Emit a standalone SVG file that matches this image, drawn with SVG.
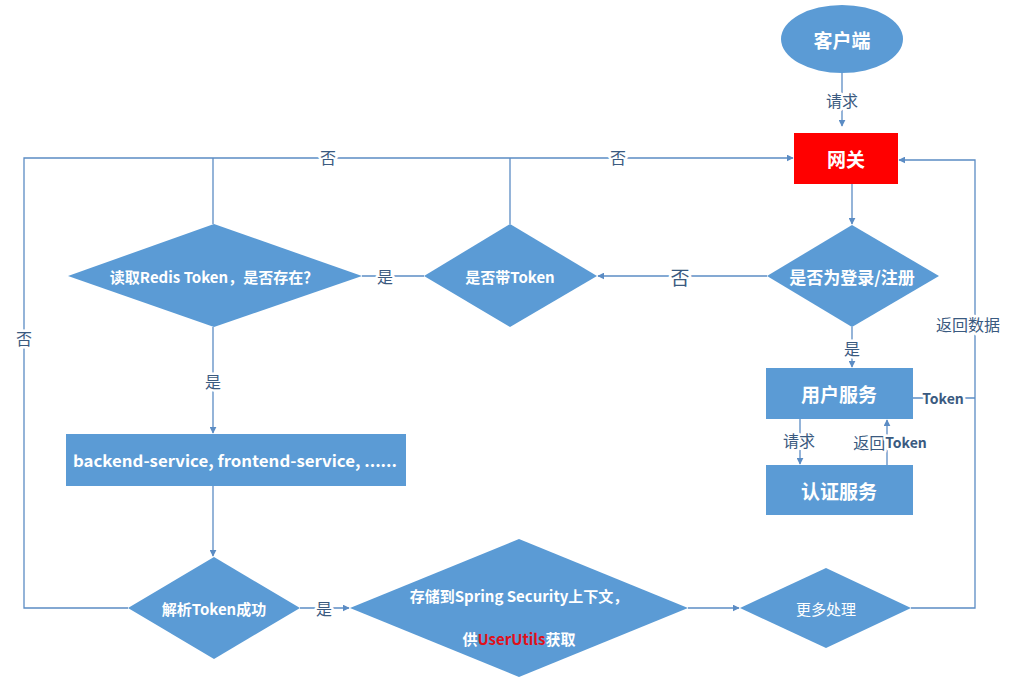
<svg xmlns="http://www.w3.org/2000/svg" width="1035" height="685" viewBox="0 0 1035 685">
<style>
.shape{fill:#5B9BD5}
.ln{fill:none;stroke:#5B8CC4;stroke-width:1.3}
.nt{font-family:"Noto Sans CJK SC","Noto Sans",sans-serif;font-weight:bold;fill:#fff;text-anchor:middle;dominant-baseline:central}
.lb{font-family:"Noto Sans CJK SC","Noto Sans",sans-serif;fill:#3A5A80;text-anchor:middle;dominant-baseline:central;font-size:16px;stroke:#fff;stroke-width:5px;paint-order:stroke;stroke-linejoin:round}
</style>
<defs>
<marker id="ah" viewBox="0 0 10 10" refX="9" refY="5" markerWidth="7" markerHeight="7" orient="auto" markerUnits="userSpaceOnUse">
<path d="M0,0 L10,5 L0,10 z" fill="#5B8CC4"/>
</marker>
</defs>
<rect width="1035" height="685" fill="#fff"/>
<g id="connectors">
<path class="ln" d="M842,73 V126" marker-end="url(#ah)"/>
<path class="ln" d="M852,184 V224" marker-end="url(#ah)"/>
<path class="ln" d="M767,276 H598" marker-end="url(#ah)"/>
<path class="ln" d="M852,327 V367" marker-end="url(#ah)"/>
<path class="ln" d="M424,276 H362"/>
<path class="ln" d="M510,224 V158"/>
<path class="ln" d="M213,224 V158"/>
<path class="ln" d="M128,608 H24 V158 H793" marker-end="url(#ah)"/>
<path class="ln" d="M213,327 V433" marker-end="url(#ah)"/>
<path class="ln" d="M213,486 V556" marker-end="url(#ah)"/>
<path class="ln" d="M300,608 H349" marker-end="url(#ah)"/>
<path class="ln" d="M688,608 H739" marker-end="url(#ah)"/>
<path class="ln" d="M911,608 H975 V160 H899" marker-end="url(#ah)"/>
<path class="ln" d="M913,398 H975"/>
<path class="ln" d="M800,419 V464" marker-end="url(#ah)"/>
<path class="ln" d="M887,465 V420" marker-end="url(#ah)"/>
<text class="lb" x="842" y="100">请求</text>
<text class="lb" x="328" y="157">否</text>
<text class="lb" x="618" y="157">否</text>
<text class="lb" x="680" y="276" style="font-size:19px">否</text>
<text class="lb" x="385" y="276">是</text>
<text class="lb" x="852" y="348">是</text>
<text class="lb" x="24" y="338">否</text>
<text class="lb" x="213" y="381">是</text>
<text class="lb" x="324" y="608">是</text>
<text class="lb" x="968" y="324">返回数据</text>
<text class="lb" x="943" y="398" style="font-weight:bold;font-size:14px">Token</text>
<text class="lb" x="799" y="440">请求</text>
<text class="lb" x="890" y="442"><tspan>返回</tspan><tspan style="font-weight:bold;font-size:14px">Token</tspan></text>
</g>
<g id="client">
<ellipse class="shape" cx="842" cy="39" rx="61" ry="34"/>
<text class="nt" x="842" y="39" font-size="19">客户端</text>
</g>
<g id="gateway">
<rect x="794" y="133" width="104" height="51" fill="#FF0000"/>
<text class="nt" x="846" y="158" font-size="19">网关</text>
</g>
<g id="isLogin">
<polygon class="shape" points="852,225 939,276 852,327 767,276"/>
<text class="nt" x="852" y="276" font-size="17">是否为登录/注册</text>
</g>
<g id="hasToken">
<polygon class="shape" points="510,224 597,276 510,327 424,276"/>
<text class="nt" x="510" y="276" font-size="15">是否带Token</text>
</g>
<g id="readRedis">
<polygon class="shape" points="214,224 362,276 214,327 68,276"/>
<text class="nt" x="214" y="276" font-size="15">读取Redis Token，是否存在？</text>
</g>
<g id="userService">
<rect class="shape" x="766" y="368" width="147" height="51"/>
<text class="nt" x="839" y="393" font-size="19">用户服务</text>
</g>
<g id="authService">
<rect class="shape" x="766" y="465" width="147" height="50"/>
<text class="nt" x="839" y="490" font-size="19">认证服务</text>
</g>
<g id="services">
<rect class="shape" x="66" y="434" width="340" height="52"/>
<text class="nt" x="235" y="460" font-size="16" textLength="324" lengthAdjust="spacingAndGlyphs">backend-service, frontend-service, ......</text>
</g>
<g id="parseToken">
<polygon class="shape" points="214,557 300,608 214,659 128,608"/>
<text class="nt" x="214" y="608" font-size="15">解析Token成功</text>
</g>
<g id="storeContext">
<polygon class="shape" points="519,539 688,608 519,677 350,608"/>
<text class="nt" x="519" y="595" font-size="15">存储到Spring Security上下文，</text>
<text class="nt" x="519" y="638" font-size="15">供<tspan fill="#E0101A">UserUtils</tspan>获取</text>
</g>
<g id="moreProcess">
<polygon class="shape" points="826,568 911,608 826,648 740,608"/>
<text class="nt" x="826" y="608" font-size="15" style="font-weight:normal">更多处理</text>
</g>
</svg>
